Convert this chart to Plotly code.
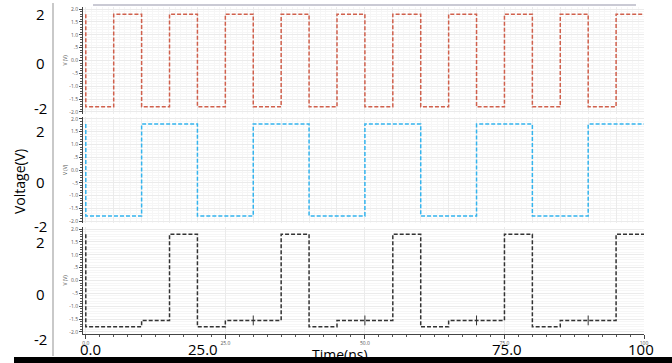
import plotly.graph_objects as go
from plotly.subplots import make_subplots

# ---- data ----
t_red = [0, 0, 5, 10, 15, 20, 25, 30, 35, 40, 45, 50, 55, 60, 65, 70, 75, 80, 85, 90, 95, 100]
v_red = [1.8, -1.8, 1.8, -1.8, 1.8, -1.8, 1.8, -1.8, 1.8, -1.8, 1.8, -1.8, 1.8, -1.8, 1.8, -1.8,
         1.8, -1.8, 1.8, -1.8, 1.8, 1.8]

t_blue = [0, 0, 10, 20, 30, 40, 50, 60, 70, 80, 90, 100]
v_blue = [1.8, -1.8, 1.8, -1.8, 1.8, -1.8, 1.8, -1.8, 1.8, -1.8, 1.8, 1.8]

t_black = [0, 0, 10, 15, 20, 25, 35, 40, 45, 55, 60, 65, 75, 80, 85, 95, 100]
v_black = [1.8, -1.8, -1.55, 1.8, -1.8, -1.55, 1.8, -1.8, -1.55, 1.8, -1.8, -1.55, 1.8, -1.8, -1.55, 1.8, 1.8]

t_marks = [30, 50, 70, 90]
v_marks = [-1.55, -1.55, -1.55, -1.55]

inner_ytick_vals = [2.0, 1.5, 1.0, 0.5, 0.0, -0.5, -1.0, -1.5, -2.0]
inner_ytick_text = ["2.0", "1.5", "1.0", ".5", "0.0", "-.5", "-1.0", "-1.5", "-2.0"]
outer_ylabels = ["2", "0", "-2"]
x_tick_vals = [0, 25, 50, 75, 100]
x_tick_text = ["0.0", "25.0", "50.0", "75.0", "100"]
big_x_labels = ["0.0", "25.0", "75.0", "100"]

W, H = 672, 363
def px(x):
    return x / W
def py(y):
    return 1 - y / H

fig = make_subplots(rows=3, cols=1, shared_xaxes=True)

line_style = dict(width=1.5, dash="4px,2px", shape="hv")
fig.add_trace(go.Scatter(x=t_red, y=v_red, mode="lines",
                         line=dict(color="#d0604c", **line_style), showlegend=False), row=1, col=1)
fig.add_trace(go.Scatter(x=t_blue, y=v_blue, mode="lines",
                         line=dict(color="#33b4ee", **line_style), showlegend=False), row=2, col=1)
fig.add_trace(go.Scatter(x=t_black, y=v_black, mode="lines",
                         line=dict(color="#333333", **line_style), showlegend=False), row=3, col=1)
fig.add_trace(go.Scatter(x=t_marks, y=v_marks, mode="markers",
                         marker=dict(symbol="line-ns-open", size=7, color="#333333",
                                     line=dict(color="#333333", width=1)),
                         showlegend=False), row=3, col=1)

xdom = [px(83), px(644)]
ydoms = [[py(114), py(7)], [py(223), py(117)], [py(334), py(227)]]
tiny = dict(family="Open Sans", size=5, color="#555555")

for i in range(3):
    xa = "xaxis" if i == 0 else f"xaxis{i+1}"
    ya = "yaxis" if i == 0 else f"yaxis{i+1}"
    bottom = (i == 2)
    fig.layout[xa].update(
        domain=xdom, range=[-0.5, 100], automargin=False,
        showgrid=True, gridcolor="#ebebeb", gridwidth=1,
        dtick=5, tick0=0,
        minor=dict(dtick=1, showgrid=True, gridcolor="#f6f6f6", ticks="", ticklen=2, tickcolor="#555"),
        zeroline=False,
        showline=bottom, linecolor="#444", linewidth=1,
        ticks="outside" if bottom else "", ticklen=4, tickcolor="#444",
        showticklabels=bottom, tickvals=x_tick_vals if bottom else None,
        ticktext=x_tick_text if bottom else None, tickfont=tiny,
    )
    fig.layout[ya].update(
        domain=ydoms[i], range=[-2.078, 2.078], automargin=False,
        showgrid=True, gridcolor="#ebebeb",
        tickvals=inner_ytick_vals, ticktext=inner_ytick_text, tickfont=tiny,
        minor=dict(dtick=0.1, showgrid=True, gridcolor="#f6f6f6", ticks="outside",
                   ticklen=2, tickcolor="#555"),
        ticks="outside", ticklen=3, tickcolor="#444",
        showline=True, linecolor="#444", linewidth=1, zeroline=False,
        title=dict(text="V (V)", font=tiny, standoff=1),
    )

# bottom x minor ticks every 2.5
fig.layout.xaxis3.minor.update(ticks="outside", tick0=0, dtick=2.5, showgrid=False)

annotations = []
big = dict(family="Open Sans", size=15, color="black")
outer_y_px = [[14, 63, 108], [131, 182, 226], [242, 294, 339]]
for i in range(3):
    for lab, yp in zip(outer_ylabels, outer_y_px[i]):
        annotations.append(dict(text=lab, x=px(40), y=py(yp), xref="paper", yref="paper",
                                xanchor="center", yanchor="middle", showarrow=False, font=big))
annotations.append(dict(text="Voltage(V)", x=px(20), y=py(182), xref="paper", yref="paper",
                        textangle=-90, xanchor="center", yanchor="middle", showarrow=False,
                        font=dict(family="Open Sans", size=14, color="black")))
for lab, xp in zip(big_x_labels, [90, 203, 507, 641]):
    annotations.append(dict(text=lab, x=px(xp), y=py(349), xref="paper", yref="paper",
                            xanchor="center", yanchor="middle", showarrow=False, font=big))
annotations.append(dict(text="Time(ns)", x=px(340), y=py(354), xref="paper", yref="paper",
                        xanchor="center", yanchor="middle", showarrow=False,
                        font=dict(family="Open Sans", size=14, color="black")))
# black strip along the bottom edge of the screenshot
annotations.append(dict(text=" ", x=px(14), y=0, xref="paper", yref="paper",
                        xanchor="left", yanchor="bottom", showarrow=False,
                        width=W - 14, height=6, bgcolor="black", borderpad=0, borderwidth=0,
                        font=dict(size=1, color="black")))

shapes = [
    dict(type="line", xref="paper", yref="paper", x0=px(53), x1=px(53), y0=py(3), y1=py(356),
         line=dict(color="#c9c9c9", width=2)),
    dict(type="line", xref="paper", yref="paper", x0=px(93), x1=px(636), y0=py(5), y1=py(5),
         line=dict(color="#b9b9c6", width=1.5)),
    dict(type="rect", xref="paper", yref="paper", x0=px(14), x1=1.0, y0=0, y1=py(357),
         fillcolor="black", line=dict(width=0), layer="above"),
]

fig.update_layout(
    width=W, height=H, margin=dict(l=0, r=0, t=0, b=0),
    paper_bgcolor="white", plot_bgcolor="white",
    annotations=annotations, shapes=shapes, showlegend=False,
)

fig.write_html("out.html", config={"displayModeBar": False},
               post_script="document.body.style.margin='0px';document.body.style.overflow='hidden';")
